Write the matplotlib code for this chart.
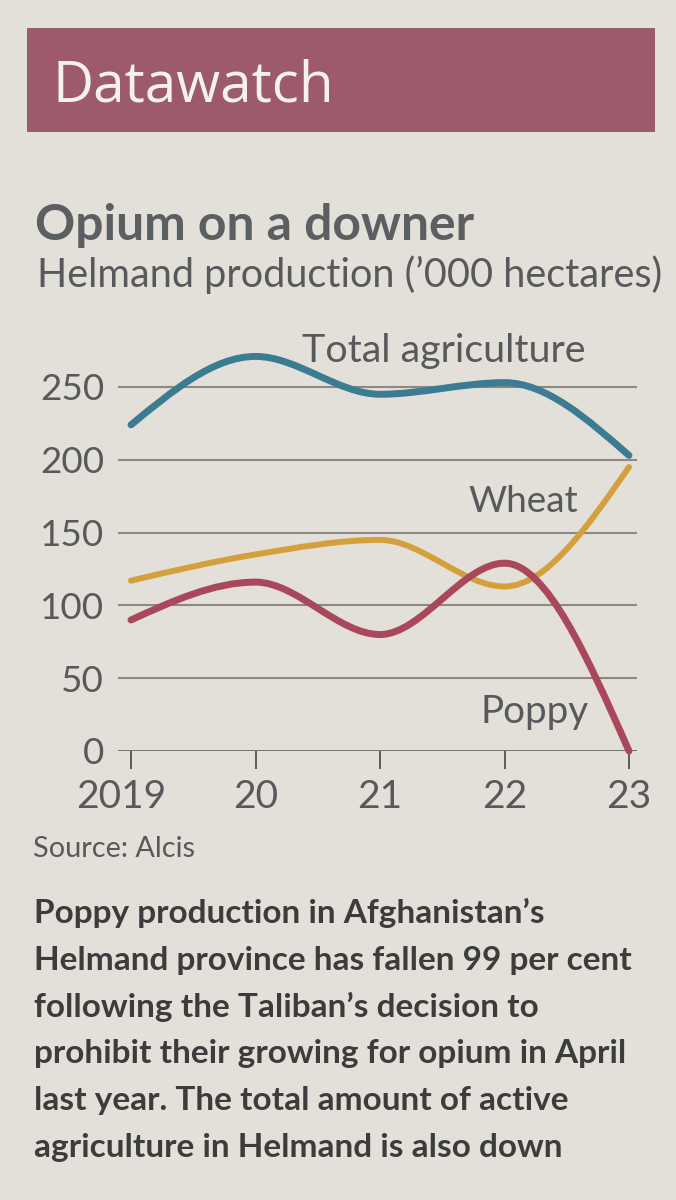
import numpy as np
import matplotlib
matplotlib.use("Agg")
import matplotlib.pyplot as plt
import matplotlib.transforms as mtransforms
from matplotlib.path import Path
from matplotlib.patches import PathPatch, Rectangle

# ---------------- data ----------------
years = [2019, 2020, 2021, 2022, 2023]
year_labels = ["2019", "20", "21", "22", "23"]
total_agriculture = [224, 271, 245, 253, 203]
wheat = [117, 135, 145, 113, 195]
poppy = [90, 116, 80, 129, 0]
y_ticks = [0, 50, 100, 150, 200, 250]

title = "Opium on a downer"
subtitle = "Helmand production (\u2019000 hectares)"
source = "Source: Alcis"
body_lines = [
    "Poppy production in Afghanistan\u2019s",
    "Helmand province has fallen 99 per cent",
    "following the Taliban\u2019s decision to",
    "prohibit their growing for opium in April",
    "last year. The total amount of active",
    "agriculture in Helmand is also down",
]

# ---------------- style ----------------
W, H = 676, 1200
BG = "#e3dfd9"
HEADER = "#9d5a6c"
TXT = "#58595a"
BODY = "#3c3c3c"
GRID = "#8d8883"
BASE = "#55514d"
BLUE = "#3c7c92"
GOLD = "#d4a03c"
RED = "#a8485a"

fig = plt.figure(figsize=(W / 100, H / 100), dpi=100, facecolor=BG)


def fx(x):
    return x / W


def fy(y):
    return 1 - y / H


renderer = fig.canvas.get_renderer()


def fit_text(x, y, s, target_w, size=20, **kw):
    t = fig.text(fx(x), fy(y), s, fontsize=size, va="baseline", **kw)
    bb = t.get_window_extent(renderer)
    t.set_fontsize(size * target_w / bb.width)
    return t


# header band
fig.patches.append(Rectangle((fx(27), fy(132)), fx(655) - fx(27), fy(28) - fy(132),
                             transform=fig.transFigure, facecolor=HEADER,
                             edgecolor="none", zorder=0))
fit_text(52, 102, "Datawatch", 281, color="#f4f1ee", family="Open Sans")

fit_text(35, 240, title, 440, color="#5c5f61", family="Lato", weight="bold")
fit_text(37, 287, subtitle, 626, color=TXT, family="Lato")
fit_text(33, 857, source, 162, color=TXT, family="Lato")

# body text
ref = fit_text(35, 970, body_lines[1], 597, color=BODY, family="Lato", weight="bold")
bsize = ref.get_fontsize()
ref.remove()
baselines = [923, 970, 1017, 1063, 1110, 1157]
for line, yb in zip(body_lines, baselines):
    fig.text(fx(34), fy(yb), line, fontsize=bsize, va="baseline", color=BODY,
             family="Lato", weight="bold")

# ---------------- chart ----------------
x0px, dxpx = 131, 124.5
left_px, right_px = 118, 637
base_px, ppu = 751, 1.456
ymax = 280
ax = fig.add_axes([fx(left_px), fy(base_px), fx(right_px) - fx(left_px),
                   ymax * ppu / H])
ax.set_facecolor("none")
ax.set_xlim(years[0] + (left_px - x0px) / dxpx, years[0] + (right_px - x0px) / dxpx)
ax.set_ylim(0, ymax)
for s in ax.spines.values():
    s.set_visible(False)

for v in y_ticks[1:]:
    ax.axhline(v, color=GRID, lw=1.5, zorder=1)
ax.axhline(0, color=BASE, lw=1.8, zorder=1)

ax.set_yticks(y_ticks)
ax.set_yticklabels([str(v) for v in y_ticks], family="Lato", fontsize=26.5, color=TXT)
ax.tick_params(axis="y", length=0, pad=10)
ax.set_xticks(years)
ax.set_xticklabels(year_labels, family="Lato", fontsize=28, color=TXT)
ax.tick_params(axis="x", length=13, width=1.3, color=BASE, pad=7, direction="out")
# first year label sits slightly left of its tick in the original
first = ax.get_xticklabels()[0]
first.set_transform(first.get_transform() +
                    mtransforms.ScaledTranslation(-10 / 100, 0, fig.dpi_scale_trans))


def monotone_path(xs, ys):
    xs = np.asarray(xs, float)
    ys = np.asarray(ys, float)
    n = len(xs)
    h = np.diff(xs)
    s = np.diff(ys) / h
    t = np.zeros(n)
    for i in range(1, n - 1):
        p = (s[i - 1] * h[i] + s[i] * h[i - 1]) / (h[i - 1] + h[i])
        t[i] = (np.sign(s[i - 1]) + np.sign(s[i])) * min(abs(s[i - 1]), abs(s[i]), 0.5 * abs(p))
    t[0] = (3 * s[0] - t[1]) / 2
    t[-1] = (3 * s[-1] - t[-2]) / 2
    verts = [(xs[0], ys[0])]
    codes = [Path.MOVETO]
    for i in range(n - 1):
        d = h[i] / 3
        verts += [(xs[i] + d, ys[i] + d * t[i]),
                  (xs[i + 1] - d, ys[i + 1] - d * t[i + 1]),
                  (xs[i + 1], ys[i + 1])]
        codes += [Path.CURVE4] * 3
    return Path(verts, codes)


for ys, col, lw in [(wheat, GOLD, 4.3), (total_agriculture, BLUE, 5.0), (poppy, RED, 5.0)]:
    ax.add_patch(PathPatch(monotone_path(years, ys), facecolor="none", edgecolor=col,
                           lw=lw, capstyle="round", joinstyle="round", zorder=3,
                           clip_on=False))

# series labels
fit_text(302, 362, "Total agriculture", 285, color=TXT, family="Lato")
fit_text(468, 512, "Wheat", 110, color=TXT, family="Lato")
fit_text(480, 723, "Poppy", 108, color=TXT, family="Lato")

fig.savefig("out.png", dpi=100, facecolor=BG)
